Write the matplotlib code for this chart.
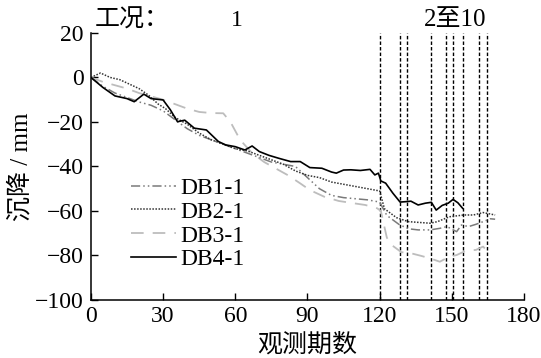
import numpy as np
import matplotlib.pyplot as plt

plt.rcParams['font.family'] = ['Liberation Serif', 'Noto Sans CJK SC']
plt.rcParams['axes.unicode_minus'] = True

# 各测点沉降观测数据 (mm)
x_db1 = [0, 5, 10, 15, 20, 25, 30, 35, 40, 45, 50, 55, 60, 65, 70, 75, 80, 85, 90, 95, 100,
         105, 110, 115, 120, 123, 128, 132, 136, 141, 145, 148, 152, 154, 157, 160, 163, 166, 168]
y_db1 = [0, -4, -7, -9, -11, -12.5, -15, -19, -23, -26, -28, -30, -32, -34, -36, -38, -39, -40,
         -45, -50, -53, -54, -54.5, -55, -56, -62, -66, -68, -68.5, -68.5, -67.8, -67, -69.3,
         -66.3, -67, -66, -64.8, -63.5, -63.7]

x_db2 = [0, 4, 8, 12, 16, 20, 24, 28, 31, 35, 40, 45, 50, 55, 60, 65, 70, 75, 80, 85, 90, 95,
         100, 105, 110, 115, 120, 122, 127, 132, 141, 144, 149, 155, 159, 163, 168]
y_db2 = [0, 2, 0, -1, -3, -5, -8, -12, -14, -18, -21, -25, -28, -30, -32, -33, -35, -37, -39,
         -42, -44, -45, -47, -48, -49, -50, -51, -59, -63, -64.8, -65.5, -64.8, -62.6, -61.8,
         -61.8, -60.7, -61.8]

x_db3 = [0, 5, 10, 15, 20, 25, 30, 35, 40, 45, 50, 55, 58, 62, 67, 72, 77, 82, 87, 91, 97,
         103, 109, 114, 119, 120.5, 123, 125, 129, 133, 137, 141, 145, 149, 152, 156, 160, 163, 165]
y_db3 = [0, -2, -3.5, -5, -7, -8.5, -10, -12, -14, -15.5, -16, -16.1, -20, -28, -34, -38, -41,
         -44, -47.6, -50.6, -53.6, -55.5, -56.5, -57.3, -58.8, -60, -72, -75.3, -78.5, -79,
         -80.1, -81.3, -82.8, -80.5, -79.8, -77.8, -77.5, -76, -78.3]

x_db4 = [0, 5, 10, 15, 18, 22, 25, 30, 33, 36, 39, 43, 48, 53, 56, 60, 64, 67, 70, 74, 78, 83,
         87, 91, 96, 100, 102, 105, 108, 112, 116, 118, 119.5, 120.5, 122.5, 125.5, 128.5, 131,
         133, 136, 139, 141.5, 143.5, 146, 148.5, 150.5, 152.5, 154.5]
y_db4 = [0, -4.5, -8.3, -9.5, -10.9, -7.5, -9.5, -10.1, -14.5, -19.9, -19.2, -22.8, -23.6,
         -28.8, -30.3, -31.1, -32.6, -30.8, -33.3, -35, -36.3, -37.8, -37.8, -40.5, -40.8, -42.5,
         -43, -41.6, -41.5, -41.8, -41.3, -43.8, -43, -46.5, -47.5, -52, -56, -55.8, -55.6, -57.3,
         -56.5, -56.1, -59.6, -57.5, -56.5, -54.8, -56.3, -58.8]

# 工况 2至10 的分界期数
stage_bounds = [120, 128.5, 131.5, 141.5, 147.5, 150.5, 154.5, 161.5, 164.5]

fs_num = 17
fs_cn = 18

fig = plt.figure(figsize=(5.41, 3.58), dpi=100)
ax = fig.add_axes([0.168, 0.162, 0.8006, 0.746])

for xb in stage_bounds:
    ax.plot([xb, xb], [-100, 20], color='black', lw=1.0, linestyle=(0, (2.5, 1.5)), zorder=1)

ax.plot(x_db1, y_db1, color='#7a7a7a', lw=1.1, linestyle=(0, (6, 2, 1, 2, 1, 2)), label='DB1-1', zorder=3)
ax.plot(x_db2, y_db2, color='#333333', lw=1.1, linestyle=(0, (1, 1)), label='DB2-1', zorder=3)
ax.plot(x_db3, y_db3, color='#bdbdbd', lw=1.3, linestyle=(0, (7, 5)), label='DB3-1', zorder=2)
ax.plot(x_db4, y_db4, color='black', lw=1.2, label='DB4-1', zorder=4)

ax.set_xlim(0, 180)
ax.set_ylim(-100, 20)
ax.set_xticks(np.arange(0, 181, 30))
ax.set_yticks(np.arange(-100, 21, 20))
ax.tick_params(direction='in', length=5, width=1, labelsize=fs_num)
ax.tick_params(axis='y', pad=5)
ax.tick_params(axis='x', pad=4)
ax.spines['top'].set_visible(False)
ax.spines['right'].set_visible(False)
for s in ('left', 'bottom'):
    ax.spines[s].set_linewidth(1.1)

ax.set_xlabel('观测期数', fontsize=fs_cn, fontweight='light', labelpad=5)
ax.set_ylabel('沉降 / mm', fontsize=fs_cn, fontweight='light', labelpad=2)

ax.text(1.5, 25.8, '工况：', fontsize=fs_cn, fontweight='light', ha='left', va='center', clip_on=False)
ax.text(60.7, 25.8, '1', fontsize=fs_num, ha='center', va='center', clip_on=False)
ax.text(151.3, 25.8, '2至10', fontsize=fs_cn, fontweight='light', ha='center', va='center', clip_on=False)

ax.legend(loc='upper left', bbox_to_anchor=(0.07, 0.495), frameon=False, fontsize=fs_num,
          handlelength=1.9, handletextpad=0.2, labelspacing=0.1, borderaxespad=0)

fig.savefig('out.png', dpi=100)
